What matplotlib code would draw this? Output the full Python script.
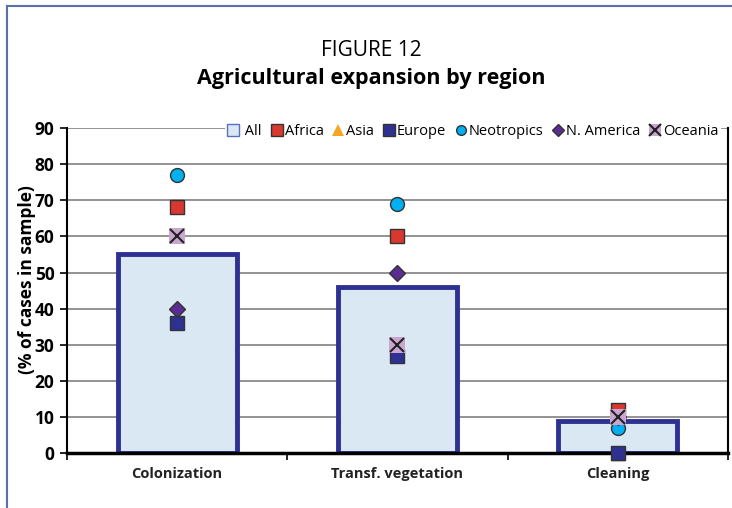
import numpy as np
import matplotlib.pyplot as plt
from matplotlib.lines import Line2D

plt.rcParams['font.family'] = ['Open Sans', 'DejaVu Sans']

categories = ["Colonization", "Transf. vegetation", "Cleaning"]
all_cases = [55, 46, 9]
africa = [68, 60, 12]
asia = [np.nan, np.nan, 0]
europe = [36, 27, 0]
neotropics = [77, 69, 7]
n_america = [40, 50, 10]
oceania = [60, 30, 10]
y_ticks = [0, 10, 20, 30, 40, 50, 60, 70, 80, 90]

fig = plt.figure(figsize=(7.32, 5.08), dpi=100)
ax = fig.add_axes([0.0915, 0.108, 0.903, 0.640])

# frame around the figure (top and left only)
fig.add_artist(Line2D([0.0096, 0.0096], [0, 0.988], color='#5a6fa8', lw=1.5))
fig.add_artist(Line2D([0.0096, 1.0], [0.988, 0.988], color='#5a6fa8', lw=1.5))

x = np.arange(len(categories))
ax.bar(x, all_cases, width=0.54, color='#dae8f3', edgecolor='#2e3192',
       linewidth=3.5, zorder=2)

kw = dict(linestyle='none', markersize=10, markeredgecolor='#333333',
          markeredgewidth=1.0, clip_on=False, zorder=5)
ax.plot(x, asia, marker='^', color='#f5a623', **kw)
ax.plot(x, africa, marker='s', color='#d9382f', **kw)
ax.plot(x, europe, marker='s', color='#2e3192', **kw)
ax.plot(x, neotropics, marker='o', color='#00b0f0', **kw)
ax.plot(x, n_america, marker='D', color='#5b2c91', linestyle='none',
        markersize=8, markeredgecolor='#333333', markeredgewidth=1.0,
        clip_on=False, zorder=5)
ax.plot(x, oceania, marker='s', color='#c9a6cf', linestyle='none',
        markersize=11, markeredgewidth=0, clip_on=False, zorder=6)
ax.plot(x, oceania, marker='x', color='#222222', linestyle='none',
        markersize=10, markeredgewidth=1.5, clip_on=False, zorder=7)

ax.set_xlim(-0.5, len(categories) - 0.5)
ax.set_ylim(0, 90)
ax.set_yticks(y_ticks)
ax.yaxis.grid(True, color='#808080', linewidth=1.2, zorder=0)
ax.set_axisbelow(True)
for lab in ax.get_yticklabels():
    lab.set_fontweight('bold')
    lab.set_fontsize(12.5)
ax.tick_params(axis='y', length=5, width=1.2, colors='black', pad=4)

ax.set_xticks(x)
ax.set_xticklabels(categories, fontsize=10.5, fontweight='bold', color='#222222')
ax.tick_params(axis='x', length=0, pad=10)
ax.set_xticks([-0.5, 0.5, 1.5, 2.5], minor=True)
ax.tick_params(axis='x', which='minor', length=5, width=1.2, direction='out')

ax.spines['top'].set_visible(False)
ax.spines['left'].set_linewidth(1.5)
ax.spines['right'].set_linewidth(1.5)
ax.spines['bottom'].set_linewidth(2.5)

fig.text(0.037, 0.449, "(% of cases in sample)", rotation=90, ha='center',
         va='center', fontsize=12.5, fontweight='bold')

handles = [
    Line2D([], [], linestyle='none', marker='s', markersize=8, color='#dae8f3',
           markeredgecolor='#5a6fc0', markeredgewidth=1),
    Line2D([], [], linestyle='none', marker='s', markersize=8, color='#d9382f',
           markeredgecolor='#333333'),
    Line2D([], [], linestyle='none', marker='^', markersize=9, color='#f5a623',
           markeredgewidth=0),
    Line2D([], [], linestyle='none', marker='s', markersize=8, color='#2e3192',
           markeredgecolor='#333333'),
    Line2D([], [], linestyle='none', marker='o', markersize=7, color='#00b0f0',
           markeredgecolor='#333333'),
    Line2D([], [], linestyle='none', marker='D', markersize=6, color='#5b2c91',
           markeredgecolor='#333333'),
    (Line2D([], [], linestyle='none', marker='s', markersize=9, color='#c9a6cf',
            markeredgewidth=0),
     Line2D([], [], linestyle='none', marker='x', markersize=8, color='#222222',
            markeredgewidth=1.5)),
]
labels = [" All", "Africa", "Asia", "Europe", "Neotropics", "N. America", "Oceania"]
leg = ax.legend(handles, labels, loc='center right', bbox_to_anchor=(0.99, 0.99),
                ncol=7, frameon=True, fancybox=False, edgecolor='none',
                facecolor='white', framealpha=1, fontsize=10.5,
                handlelength=0.8, handletextpad=0.15, columnspacing=0.6,
                borderpad=0.2, borderaxespad=0)
leg.set_zorder(10)

fig.text(0.507, 0.900, "FIGURE 12", ha='center', va='center', fontsize=15)
fig.text(0.507, 0.845, "Agricultural expansion by region", ha='center',
         va='center', fontsize=15.5, fontweight='bold')

fig.savefig("out.png", dpi=100)
